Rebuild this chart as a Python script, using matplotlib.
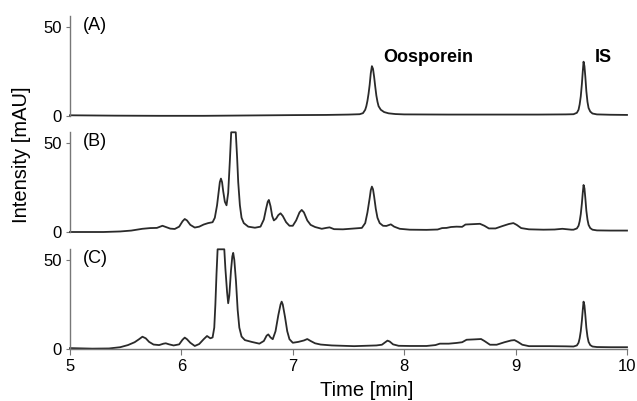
import numpy as np
import matplotlib
matplotlib.use("Agg")
import matplotlib.pyplot as plt
from matplotlib import rcParams

rcParams.update({
    "font.family": ["Liberation Sans", "DejaVu Sans"],
    "font.size": 12,
})

# (A) standard: oosporein + internal standard
time_a = [5.0, 5.4, 5.8, 6.2, 6.6, 7.0, 7.3, 7.5, 7.60, 7.63, 7.65, 7.66, 7.67, 7.68,
          7.69, 7.70, 7.71, 7.72, 7.73, 7.74, 7.75, 7.76, 7.77, 7.79, 7.82, 7.86,
          7.92, 8.0, 8.4, 8.8, 9.2, 9.45, 9.52, 9.55, 9.565, 9.575, 9.585, 9.595,
          9.603, 9.61, 9.618, 9.626, 9.635, 9.645, 9.655, 9.67, 9.69, 9.73, 9.85, 10.0]
int_a = [0.4, 0.2, 0.1, 0.1, 0.3, 0.5, 0.6, 0.8, 1.0, 1.6, 3.5, 5.5, 8.5, 12.5,
         17.5, 24, 28, 26.5, 22, 16.5, 11.5, 8, 5.5, 3.5, 2.2, 1.5,
         1.1, 0.9, 0.8, 0.8, 0.8, 0.9, 1.0, 1.8, 3.5, 6.5, 11, 18,
         25, 30.5, 28, 22, 14, 8, 4.5, 2.5, 1.4, 0.9, 0.7, 0.6]

# (B)
time_b = [5.0, 5.3, 5.45, 5.55, 5.65, 5.72, 5.78, 5.81, 5.83, 5.86, 5.90, 5.94, 5.98,
          6.01, 6.03, 6.05, 6.08, 6.12, 6.16, 6.20, 6.24, 6.28, 6.30, 6.32, 6.335,
          6.345, 6.355, 6.365, 6.375, 6.39, 6.405, 6.42, 6.435, 6.447, 6.488, 6.50,
          6.51, 6.525, 6.54, 6.56, 6.60, 6.66, 6.71, 6.74, 6.76, 6.775, 6.785, 6.80,
          6.815, 6.83, 6.85, 6.87, 6.89, 6.91, 6.94, 6.97, 7.0, 7.03, 7.06, 7.08,
          7.10, 7.13, 7.16, 7.2, 7.26, 7.30, 7.33, 7.37, 7.45, 7.55, 7.62, 7.65,
          7.67, 7.69, 7.70, 7.71, 7.72, 7.73, 7.745, 7.76, 7.78, 7.81, 7.84, 7.88,
          7.91, 7.96, 8.05, 8.2, 8.3, 8.34, 8.38, 8.42, 8.47, 8.52, 8.55, 8.62, 8.68,
          8.72, 8.76, 8.82, 8.88, 8.94, 8.98, 9.01, 9.05, 9.12, 9.25, 9.35, 9.42,
          9.5, 9.52, 9.55, 9.565, 9.575, 9.585, 9.595, 9.603, 9.61, 9.618, 9.626,
          9.635, 9.645, 9.655, 9.67, 9.69, 9.73, 9.85, 10.0]
int_b = [0.0, 0.0, 0.3, 0.8, 1.8, 2.2, 2.3, 3.0, 3.5, 2.8, 1.9, 1.7, 3.0,
         6.0, 7.3, 6.5, 4.0, 2.5, 3.0, 4.2, 5.0, 5.5, 8, 15, 23,
         28, 30, 28, 23, 17, 15, 22, 40, 56, 56, 42,
         28, 15, 8, 5, 3, 2.4, 3, 7, 13, 17, 18, 14.5,
         9, 6.5, 7.5, 9.5, 10.5, 9, 5.5, 3.5, 3.5, 6.5, 11, 12.4,
         11, 6.5, 4, 2.8, 1.8, 2.3, 2.6, 1.6, 1.5, 2.0, 2.3, 5,
         11, 19, 23.5, 25.5, 24, 20, 13, 8, 5, 3.5, 3.4, 4.3,
         3.0, 1.8, 1.3, 1.2, 1.4, 2.2, 2.3, 2.8, 3.0, 2.9, 4.2, 4.4, 4.6,
         3.5, 2.0, 2.0, 3.3, 4.5, 5.0, 4.0, 2.2, 1.5, 1.3, 1.4, 1.8,
         1.3, 1.3, 2.0, 3.5, 6, 10, 16, 22, 26.4, 24.5, 19,
         12, 7, 4, 2.2, 1.3, 0.9, 0.8, 0.8]

# (C)
time_c = [5.0, 5.2, 5.35, 5.45, 5.52, 5.58, 5.62, 5.65, 5.68, 5.71, 5.75, 5.80, 5.84,
          5.86, 5.89, 5.93, 5.98, 6.01, 6.03, 6.05, 6.08, 6.12, 6.16, 6.20, 6.23,
          6.26, 6.28, 6.295, 6.305, 6.315, 6.325, 6.385, 6.395, 6.41, 6.42, 6.43,
          6.445, 6.457, 6.465, 6.475, 6.49, 6.505, 6.52, 6.54, 6.57, 6.63, 6.70,
          6.74, 6.765, 6.78, 6.80, 6.82, 6.845, 6.87, 6.89, 6.90, 6.91, 6.93, 6.95,
          6.97, 7.0, 7.05, 7.10, 7.13, 7.16, 7.2, 7.25, 7.35, 7.45, 7.55, 7.65, 7.75,
          7.80, 7.83, 7.85, 7.87, 7.9, 7.95, 8.05, 8.2, 8.28, 8.32, 8.4, 8.47, 8.52,
          8.56, 8.63, 8.69, 8.72, 8.77, 8.83, 8.9, 8.96, 8.99, 9.02, 9.06, 9.12, 9.3,
          9.45, 9.52, 9.55, 9.565, 9.575, 9.585, 9.595, 9.603, 9.61, 9.618, 9.626,
          9.635, 9.645, 9.655, 9.67, 9.69, 9.73, 9.85, 10.0]
int_c = [0.5, 0.2, 0.3, 1.0, 2.2, 3.8, 5.5, 6.9, 6.0, 4.0, 2.5, 2.2, 3.0,
         3.2, 2.6, 2.0, 2.6, 5.2, 6.4, 5.5, 3.5, 1.7, 2.8, 5.5, 7.3,
         6.0, 6.5, 12, 25, 42, 56, 56, 45, 32, 25.7, 30,
         44, 52, 54, 50, 38, 22, 12, 7, 5, 4, 3,
         4.5, 7.5, 8.2, 6.5, 5.5, 10, 19, 25, 26.6, 25, 18, 10,
         5.5, 3.5, 4, 4.8, 5.6, 4.5, 3.2, 2.5, 2.0, 1.8, 1.6, 1.8, 2.0,
         2.4, 3.8, 4.7, 4.2, 2.6, 1.8, 1.7, 1.7, 2.2, 3.0, 3.0, 3.4, 3.8,
         5.2, 5.4, 5.6, 4.5, 2.4, 2.4, 3.8, 4.8, 5.0, 4.0, 2.4, 1.6, 1.6,
         1.5, 1.4, 2.0, 3.5, 6, 10, 16, 22, 26.6, 24.5, 19,
         12, 7, 4, 2.2, 1.4, 1.1, 1.0, 1.0]

panel_labels = ["(A)", "(B)", "(C)"]
traces = [(time_a, int_a), (time_b, int_b), (time_c, int_c)]

W, H = 637, 401
fig = plt.figure(figsize=(W / 100, H / 100), dpi=100)

left = 70 / W
width = (627 - 70) / W
panel_h = (116 - 16.3) / H
bottoms = [(H - 116) / H, (H - 232) / H, (H - 349) / H]

axes = []
for i, (t, y) in enumerate(traces):
    ax = fig.add_axes([left, bottoms[i], width, panel_h])
    ax.plot(t, y, color="#2a2a2a", lw=1.3, solid_joinstyle="round", clip_on=False)
    ax.set_xlim(5, 10)
    ax.set_ylim(0, 56)
    for s in ["top", "right"]:
        ax.spines[s].set_visible(False)
    ax.spines["left"].set_color("#777777")
    ax.spines["left"].set_linewidth(1.0)
    ax.set_yticks([0, 50])
    ax.tick_params(axis="y", length=3, width=0.8, color="#777777", pad=3, labelsize=12)
    if i < 2:
        ax.spines["bottom"].set_visible(False)
        ax.set_xticks([])
    else:
        ax.spines["bottom"].set_color("#777777")
        ax.spines["bottom"].set_linewidth(1.0)
        ax.set_xticks([5, 6, 7, 8, 9, 10])
        ax.tick_params(axis="x", length=4, width=0.8, color="#777777", pad=3, labelsize=12)
    ax.text(5.117, 51, panel_labels[i], fontsize=13, va="center", ha="left")
    axes.append(ax)

axes[0].text(7.816, 33, "Oosporein", fontsize=13, fontweight="bold", va="center", ha="left")
axes[0].text(9.709, 33, "IS", fontsize=13, fontweight="bold", va="center", ha="left")

fig.text(22 / W, 1 - 155 / H, "Intensity [mAU]", rotation=90, fontsize=14.5,
         ha="center", va="center")
fig.text(366.5 / W, 1 - 391 / H, "Time [min]", fontsize=14.5, ha="center", va="center")

fig.savefig("out.png", dpi=100)
